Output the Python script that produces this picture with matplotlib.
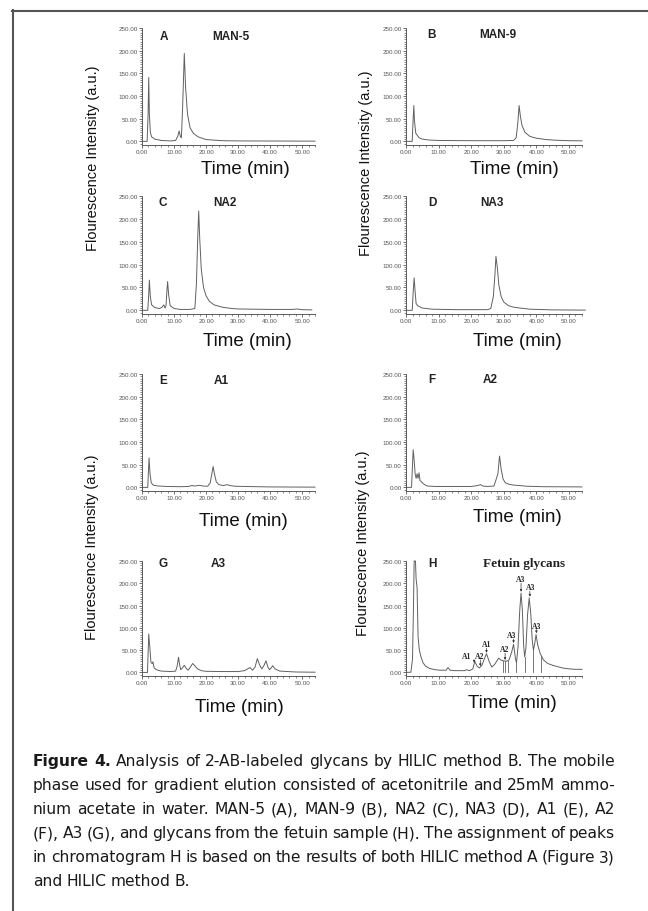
import matplotlib
matplotlib.use('Agg')
import numpy as np
import matplotlib.pyplot as plt
from matplotlib.lines import Line2D
from matplotlib.ticker import MultipleLocator, FormatStrFormatter
from matplotlib import font_manager

# chromatogram traces: time (min), intensity (a.u.)
man5_t = [0, 1.6, 1.9, 2.1, 2.3, 2.6, 3.0, 4, 6, 9, 10.5, 11.2, 11.6, 12.0, 12.3,
          12.7, 13.2, 13.6, 14.2, 15, 16, 17.5, 20, 25, 30, 54]
man5_y = [0, 0, 60, 141, 60, 20, 10, 5, 2, 1, 2, 12, 23, 10, 8,
          80, 194, 120, 60, 30, 18, 10, 4, 1.5, 1, 0.5]

man9_t = [0, 1.9, 2.2, 2.4, 2.6, 3.0, 4, 5, 7, 10, 20, 30, 33, 33.8, 34.3, 34.7,
          35.1, 35.6, 36.5, 38, 40, 43, 46, 50, 54]
man9_y = [0, 0, 50, 79, 45, 18, 8, 5, 3, 2, 1.5, 1.5, 2, 8, 40, 79,
          55, 35, 20, 11, 7, 4, 2.5, 1.5, 1.2]

na2_t = [0, 1.8, 2.1, 2.3, 2.6, 3.0, 4, 5.5, 6.3, 6.8, 7.2, 7.5, 7.8, 8.0, 8.3, 8.8,
         10, 12, 15, 16.5, 17.0, 17.4, 17.7, 18.0, 18.5, 19.2, 20, 21, 22.5, 25,
         28, 30, 40, 47, 48.5, 50, 53]
na2_y = [0, 0, 35, 66, 30, 12, 6, 4, 7, 12, 5, 10, 45, 63, 35, 10,
         4, 2, 2, 4, 60, 160, 217, 160, 90, 50, 32, 20, 12, 7,
         4, 3, 2, 2, 3, 1.5, 1]

na3_t = [0, 1.9, 2.2, 2.5, 2.8, 3.1, 3.6, 5, 8, 15, 25, 26, 26.8, 27.3, 27.6, 28.0,
         28.5, 29.2, 30, 31.5, 33, 35, 38, 45, 55]
na3_y = [0, 0, 40, 71, 40, 15, 10, 5, 2.5, 1.5, 1.5, 4, 30, 80, 118, 95,
         55, 30, 18, 10, 7, 5, 2.5, 1, 0.5]

a1_t = [0, 1.8, 2.0, 2.2, 2.5, 2.9, 3.5, 5, 8, 12, 14.5, 15.5, 16.5, 18, 19, 20.5,
        21.3, 21.8, 22.2, 22.6, 23.2, 24, 25.5, 26.5, 27.5, 29, 32, 40, 54]
a1_y = [0, 0, 35, 65, 30, 10, 5, 3, 2, 1.5, 2, 4, 3, 4.5, 3, 2.5,
        10, 30, 46, 30, 12, 6, 4, 6, 4, 2.5, 2, 1, 0.5]

a2_t = [0, 1.7, 2.0, 2.2, 2.5, 2.8, 3.1, 3.4, 3.7, 4.0, 4.3, 4.8, 5.3, 6.5, 9, 12,
        20, 22, 22.8, 23.6, 25, 27, 28.2, 28.7, 29.2, 29.8, 30.5, 31.5, 33, 35,
        37, 42, 54]
a2_y = [0, 0, 50, 83, 60, 30, 20, 30, 20, 32, 15, 12, 8, 3, 2, 2,
        2, 4, 6, 3, 2, 3, 30, 69, 40, 18, 10, 7, 5, 4,
        2.5, 1.5, 1]

a3_t = [0, 1.7, 1.9, 2.1, 2.4, 2.8, 3.2, 3.4, 3.8, 4.5, 6, 9, 10.5, 11.0, 11.4,
        11.8, 12.1, 12.6, 13.2, 13.8, 14.4, 15.1, 15.8, 16.5, 17.3, 18.5, 20, 25,
        30, 32, 33.7, 34.5, 35.3, 36.0, 36.7, 37.4, 38.1, 38.7, 39.3, 39.8, 40.3,
        40.8, 41.5, 43, 48, 54]
a3_y = [0, 0, 40, 86, 60, 22, 20, 24, 10, 6, 3, 2, 3, 15, 34,
        15, 6, 10, 16, 9, 5, 12, 20, 15, 8, 4, 2.5, 2,
        2, 4, 11, 5, 12, 31, 17, 8, 16, 26, 12, 6, 10,
        15, 8, 3, 1, 0.5]

fetuin_t = [0, 1.5, 2.0, 2.3, 2.5, 2.9, 3.1, 3.4, 3.7, 4.1, 4.6, 5.2, 6, 7.2, 9,
            10.5, 12.3, 12.9, 13.5, 15, 18, 18.6, 19.5, 20.5, 21.1, 21.8, 22.5,
            23.3, 24.0, 24.7, 25.5, 26.3, 27.2, 28.4, 29.3, 30.0, 30.8, 31.6,
            32.4, 33.0, 33.6, 33.9, 34.4, 34.9, 35.3, 35.7, 36.1, 36.4, 36.8,
            37.3, 37.8, 38.3, 38.7, 39.1, 39.5, 39.9, 40.4, 41.2, 42.2, 43.5,
            45, 46.5, 48, 50, 52, 54]
fetuin_y = [0, 0.5, 30, 150, 250, 250, 210, 190, 80, 50, 35, 22, 14, 9, 6,
            5, 5, 11, 5, 4, 4, 6, 4, 8, 25, 14, 10,
            16, 30, 42, 25, 12, 18, 32, 27, 26, 25, 28,
            45, 63, 30, 22, 60, 140, 178, 140, 60, 35, 55,
            130, 167, 130, 75, 50, 65, 85, 62, 42, 28, 20,
            16, 13, 10, 8, 7, 7]

# peak drop lines and assignments in chromatogram H
fetuin_drops = [29.7, 30.4, 31.2, 33.8, 36.4, 39.1, 41.5]
fetuin_labels = ['A1', 'A2', 'A1', 'A2', 'A3', 'A3', 'A3', 'A3']
fetuin_label_t = [18.6, 22.5, 24.6, 30.2, 32.5, 35.3, 38.3, 40.2]
fetuin_label_y = [37, 37, 63, 52, 84, 209, 191, 105]
fetuin_tip_t = [20.9, 22.8, 24.7, 30.4, 33.0, 35.3, 38.0, 40.0]
fetuin_tip_y = [22, 14, 44, 28, 66, 181, 170, 88]

panel_letters = ['A', 'B', 'C', 'D', 'E', 'F', 'G', 'H']
panel_titles = ['MAN-5', 'MAN-9', 'NA2', 'NA3', 'A1', 'A2', 'A3', 'Fetuin glycans']
traces = [(man5_t, man5_y), (man9_t, man9_y), (na2_t, na2_y), (na3_t, na3_y),
          (a1_t, a1_y), (a2_t, a2_y), (a3_t, a3_y), (fetuin_t, fetuin_y)]

caption_lines = [
    'Figure 4. Analysis of 2-AB-labeled glycans by HILIC method B. The mobile',
    'phase used for gradient elution consisted of acetonitrile and 25mM ammo-',
    'nium acetate in water. MAN-5 (A), MAN-9 (B), NA2 (C), NA3 (D), A1 (E), A2',
    '(F), A3 (G), and glycans from the fetuin sample (H). The assignment of peaks',
    'in chromatogram H is based on the results of both HILIC method A (Figure 3)',
    'and HILIC method B.',
]

W, H = 648, 912
SANS = ['Liberation Sans', 'DejaVu Sans']
SERIF = ['Liberation Serif', 'DejaVu Serif']
GREY = '#5a5a5a'

# layout in pixels: (left, right) per column, (top, bottom) per row
cols = [(142, 315), (406, 582)]
rows = [(29, 146), (197, 315), (375, 492), (562, 677)]
letter_pos = [(164, 37), (432, 35), (163, 203), (432, 203),
              (163, 381), (432, 380), (163, 564), (432, 564)]
title_pos = [(231, 37), (498, 35), (225, 203), (492, 203),
             (221, 381), (490, 380), (218, 564), (524, 564)]
xlabel_pos = [(245, 170), (514, 170), (247, 342), (517, 342),
              (243, 522), (517, 518), (239, 708), (512, 703)]
ylabel_pos = [(93, 158), (366, 163), (92, 547), (363, 543)]


def fx(x):
    return x / W


def fy(y):
    return 1 - y / H


def style_axes(ax):
    for s in ['top', 'right']:
        ax.spines[s].set_visible(False)
    for s in ['left', 'bottom']:
        ax.spines[s].set_color(GREY)
        ax.spines[s].set_linewidth(0.7)
    ax.set_xlim(0, 54)
    ax.set_ylim(-8, 250)
    ax.xaxis.set_major_locator(MultipleLocator(10))
    ax.xaxis.set_minor_locator(MultipleLocator(2))
    ax.yaxis.set_major_locator(MultipleLocator(50))
    ax.yaxis.set_minor_locator(MultipleLocator(5))
    ax.xaxis.set_major_formatter(FormatStrFormatter('%.2f'))
    ax.yaxis.set_major_formatter(FormatStrFormatter('%.2f'))
    ax.tick_params(which='major', length=2, width=0.6, color=GREY,
                   labelsize=4.5, labelcolor='#555555', pad=1)
    ax.tick_params(which='minor', length=1.2, width=0.5, color=GREY)
    for lab in ax.get_xticklabels() + ax.get_yticklabels():
        lab.set_family(SANS)
    ax.patch.set_alpha(0)


fig = plt.figure(figsize=(W / 100, H / 100), dpi=100)

for i, (t, y) in enumerate(traces):
    l, r = cols[i % 2]
    top, bot = rows[i // 2]
    ax = fig.add_axes([fx(l), fy(bot), (r - l) / W, (bot - top) / H])
    style_axes(ax)
    ax.plot(t, y, color='#606060', lw=0.7, clip_on=False)
    if i == 7:
        for d in fetuin_drops:
            ax.plot([d, d], [0, np.interp(d, t, y)], color='#606060', lw=0.6)
        for lab, lt, ly, tt, ty in zip(fetuin_labels, fetuin_label_t, fetuin_label_y,
                                       fetuin_tip_t, fetuin_tip_y):
            ax.text(lt, ly, lab, family=SERIF, fontweight='bold', fontsize=5.5,
                    ha='center', va='center', color='#222222')
            ax.annotate('', xy=(tt, ty), xytext=(tt, ly - 9),
                        arrowprops=dict(arrowstyle='-|>', lw=0.5, color='#333333',
                                        mutation_scale=3, shrinkA=0, shrinkB=0))

    lx, ly = letter_pos[i]
    fig.text(fx(lx), fy(ly), panel_letters[i], family=SANS, fontweight='bold',
             fontsize=8.5, ha='center', va='center', color='#222222')
    tx, ty = title_pos[i]
    if i == 7:
        fig.text(fx(tx), fy(ty), panel_titles[i], family=SERIF, fontweight='bold',
                 fontsize=9.5, ha='center', va='center', color='#222222')
    else:
        fig.text(fx(tx), fy(ty), panel_titles[i], family=SANS, fontweight='bold',
                 fontsize=8.5, ha='center', va='center', color='#222222')
    xx, xy = xlabel_pos[i]
    fig.text(fx(xx), fy(xy), 'Time (min)', family=SANS, fontsize=13.5,
             ha='center', va='center', color='#111111')

for x, y in ylabel_pos:
    fig.text(fx(x), fy(y), 'Flourescence Intensity (a.u.)', family=SANS,
             fontsize=10.5, rotation=90, ha='center', va='center', color='#111111')

# frame around the figure (open on the right and bottom)
fig.add_artist(Line2D([fx(12), 1], [fy(11.5), fy(11.5)], color='#555555', lw=1.5))
fig.add_artist(Line2D([fx(12.5), fx(12.5)], [fy(11), 0], color='#555555', lw=1.5))

# caption in a condensed face, sized so that the tightest line keeps a
# word gap of min_gap pixels, then justified between x0 and x1
cap_family = ['DejaVu Sans']
for name in ['Liberation Sans Narrow', 'DejaVu Sans Condensed']:
    try:
        font_manager.findfont(font_manager.FontProperties(family=name),
                              fallback_to_default=False)
        cap_family = [name, 'DejaVu Sans']
        break
    except ValueError:
        pass

renderer = fig.canvas.get_renderer()
x0, x1 = 33, 615
min_gap = 3.5


def word_texts(k, line, size):
    texts = []
    for j, w in enumerate(line.split()):
        bold = k == 0 and j < 2
        texts.append(fig.text(0, fy(762 + k * 24), w, family=cap_family, fontsize=size,
                              fontweight='bold' if bold else 'normal',
                              ha='left', va='center', color='#1a1a1a'))
    return texts


scales = []
for k, line in enumerate(caption_lines[:5]):
    probe = word_texts(k, line, 10)
    total = sum(p.get_window_extent(renderer).width for p in probe)
    scales.append(10 * (x1 - x0 - min_gap * (len(probe) - 1)) / total)
    for p in probe:
        p.remove()
cap_size = min(scales)

for k, line in enumerate(caption_lines):
    texts = word_texts(k, line, cap_size)
    widths = [t.get_window_extent(renderer).width for t in texts]
    if k < len(caption_lines) - 1:
        gap = (x1 - x0 - sum(widths)) / (len(texts) - 1)
    else:
        gap = min_gap + 0.5
    x = x0
    for t, w in zip(texts, widths):
        t.set_x(fx(x))
        x += w + gap

fig.savefig('out.png', dpi=100)
